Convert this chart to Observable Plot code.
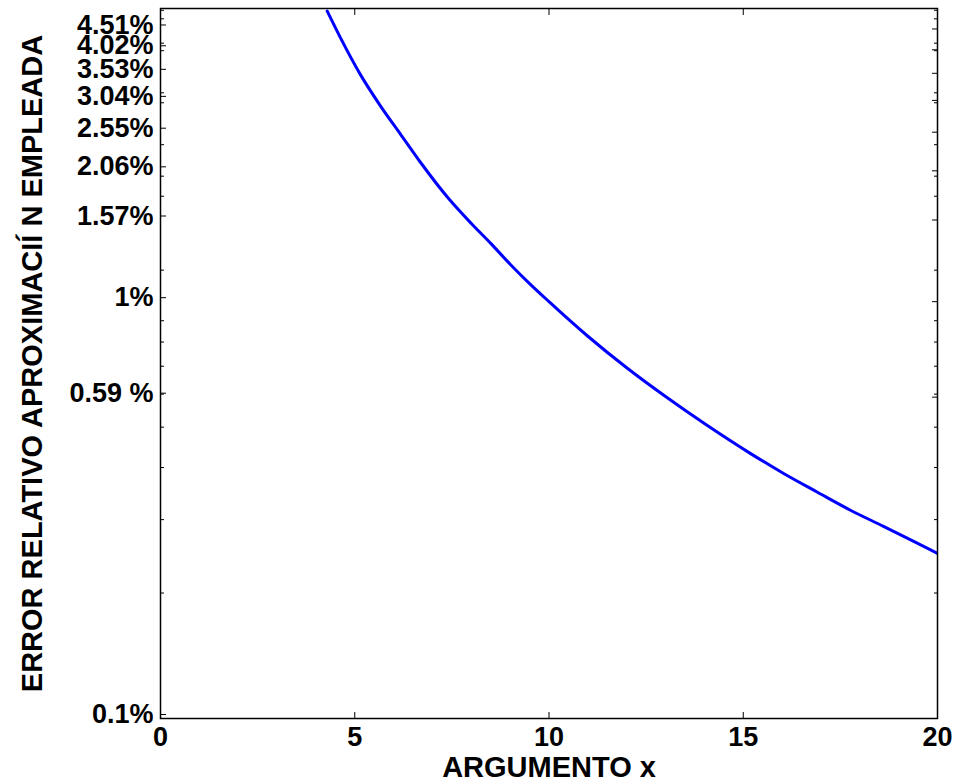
<!DOCTYPE html>
<html><head><meta charset="utf-8">
<script src="https://cdn.jsdelivr.net/npm/d3@7"></script>
<script src="https://cdn.jsdelivr.net/npm/@observablehq/plot@0.6"></script>
<style>body{margin:0;background:#fff;}</style>
</head><body><div id="chart"></div>
<script>
// Curve
const xValues  = [4.29, 4.63, 5.15, 5.66, 6.18, 6.69, 7.41, 8.0, 8.5, 9.0, 9.5, 10.0, 11.0, 12.0, 13.0, 14.0, 15.19, 16.04, 16.91, 17.76, 18.61, 19.49, 20.0];
const errorPct = [4.98, 4.30, 3.50, 2.95, 2.52, 2.16, 1.77, 1.54, 1.38, 1.23, 1.105, 1.0, 0.826, 0.694, 0.592, 0.51, 0.432, 0.387, 0.349, 0.316, 0.289, 0.263, 0.249];

const xTicks = [0, 5, 10, 15, 20];
const yTicks = [0.1, 0.59, 1, 1.57, 2.06, 2.55, 3.04, 3.53, 4.02, 4.51];
const yTickLabels = ["0.1%", "0.59 %", "1%", "1.57%", "2.06%", "2.55%", "3.04%", "3.53%", "4.02%", "4.51%"];
const yMinorTicks = [0.2, 0.3, 0.4, 0.5, 0.6, 0.7, 0.8, 0.9, 1.19, 1.79, 2, 2.38, 3, 3.17, 4, 4.17, 4.77, 5];
const xLabel = "ARGUMENTO x";
const yLabel = "ERROR RELATIVO APROXIMACIÍ N EMPLEADA";

const data = xValues.map((x, i) => ({x, y: errorPct[i]}));
const font = "'Liberation Sans', Arial, Helvetica, sans-serif";
const blank = () => "";

const chart = Plot.plot({
  width: 956, height: 783,
  marginLeft: 160, marginRight: 19, marginTop: 8, marginBottom: 65,
  style: {fontFamily: font, fontWeight: "bold", background: "white", color: "black"},
  x: {domain: [0, 20]},
  y: {type: "log", domain: [0.1, 5.05]},
  marks: [
    Plot.line(data, {x: "x", y: "y", stroke: "#0000ff", strokeWidth: 3, curve: "monotone-x", clip: true}),
    Plot.axisX({ticks: xTicks, anchor: "bottom", tickSize: -6, tickPadding: 14, fontSize: 27, label: null}),
    Plot.axisX({ticks: xTicks, anchor: "top", tickSize: -6, tickFormat: blank, label: null}),
    Plot.axisY({ticks: yTicks, anchor: "left", tickSize: -6, tickPadding: 13, fontSize: 27, dy: -4,
                tickFormat: d => yTickLabels[yTicks.indexOf(d)], label: null}),
    Plot.axisY({ticks: yMinorTicks, anchor: "left", tickSize: -4, tickFormat: blank, label: null}),
    Plot.axisY({ticks: yTicks, anchor: "right", tickSize: -6, tickFormat: blank, label: null}),
    Plot.axisY({ticks: yMinorTicks, anchor: "right", tickSize: -4, tickFormat: blank, label: null}),
    Plot.frame({stroke: "black", strokeWidth: 1.5}),
    Plot.text([xLabel], {text: d => d, frameAnchor: "bottom", dy: 38, lineAnchor: "top", textAnchor: "middle", fontSize: 29, fontWeight: "bold"}),
    Plot.text([yLabel], {text: d => d, frameAnchor: "left", dx: -128, rotate: -90, textAnchor: "middle", lineAnchor: "middle", fontSize: 29, fontWeight: "bold"})
  ]
});
document.getElementById("chart").appendChild(chart);
</script>
</body></html>
